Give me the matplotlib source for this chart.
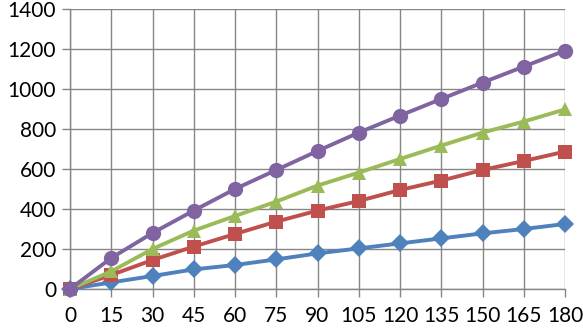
import numpy as np
import matplotlib.pyplot as plt

x = [0, 15, 30, 45, 60, 75, 90, 105, 120, 135, 150, 165, 180]
blue = [0, 33, 65, 98, 120, 148, 178, 203, 228, 253, 278, 300, 325]
red = [0, 70, 145, 212, 275, 337, 392, 440, 495, 542, 595, 640, 687]
green = [0, 88, 200, 292, 365, 437, 517, 582, 650, 717, 782, 837, 898]
purple = [0, 155, 280, 392, 500, 595, 690, 782, 867, 950, 1032, 1112, 1192]

plt.rcParams['font.family'] = ['Lato', 'DejaVu Sans']

fig = plt.figure(figsize=(5.83, 3.29), dpi=100)
ax = fig.add_axes([70/583, 40/329, 495/583, 280/329])

series = [
    (blue, '#4F81BD', 'D', 9),
    (red, '#C0504D', 's', 9.5),
    (green, '#9BBB59', '^', 10),
    (purple, '#8064A2', 'o', 11),
]
for ys, c, m, ms in series:
    ax.plot(x, ys, color=c, marker=m, markersize=ms, linewidth=2.8,
            markeredgewidth=0, clip_on=False, zorder=3)

ax.set_xlim(0, 180)
ax.set_ylim(0, 1400)
ax.set_xticks(x)
ax.set_yticks(np.arange(0, 1401, 200))
ax.grid(True, color='#868686', linewidth=1.0)
ax.set_axisbelow(True)
for s in ['top', 'right']:
    ax.spines[s].set_visible(False)
for s in ['left', 'bottom']:
    ax.spines[s].set_color('#868686')
    ax.spines[s].set_linewidth(1.0)
ax.tick_params(axis='both', colors='#868686', length=6, width=1.0,
               labelcolor='black', labelsize=15)
ax.tick_params(axis='x', pad=6)
ax.tick_params(axis='y', pad=4)

fig.savefig('out.png', dpi=100)
